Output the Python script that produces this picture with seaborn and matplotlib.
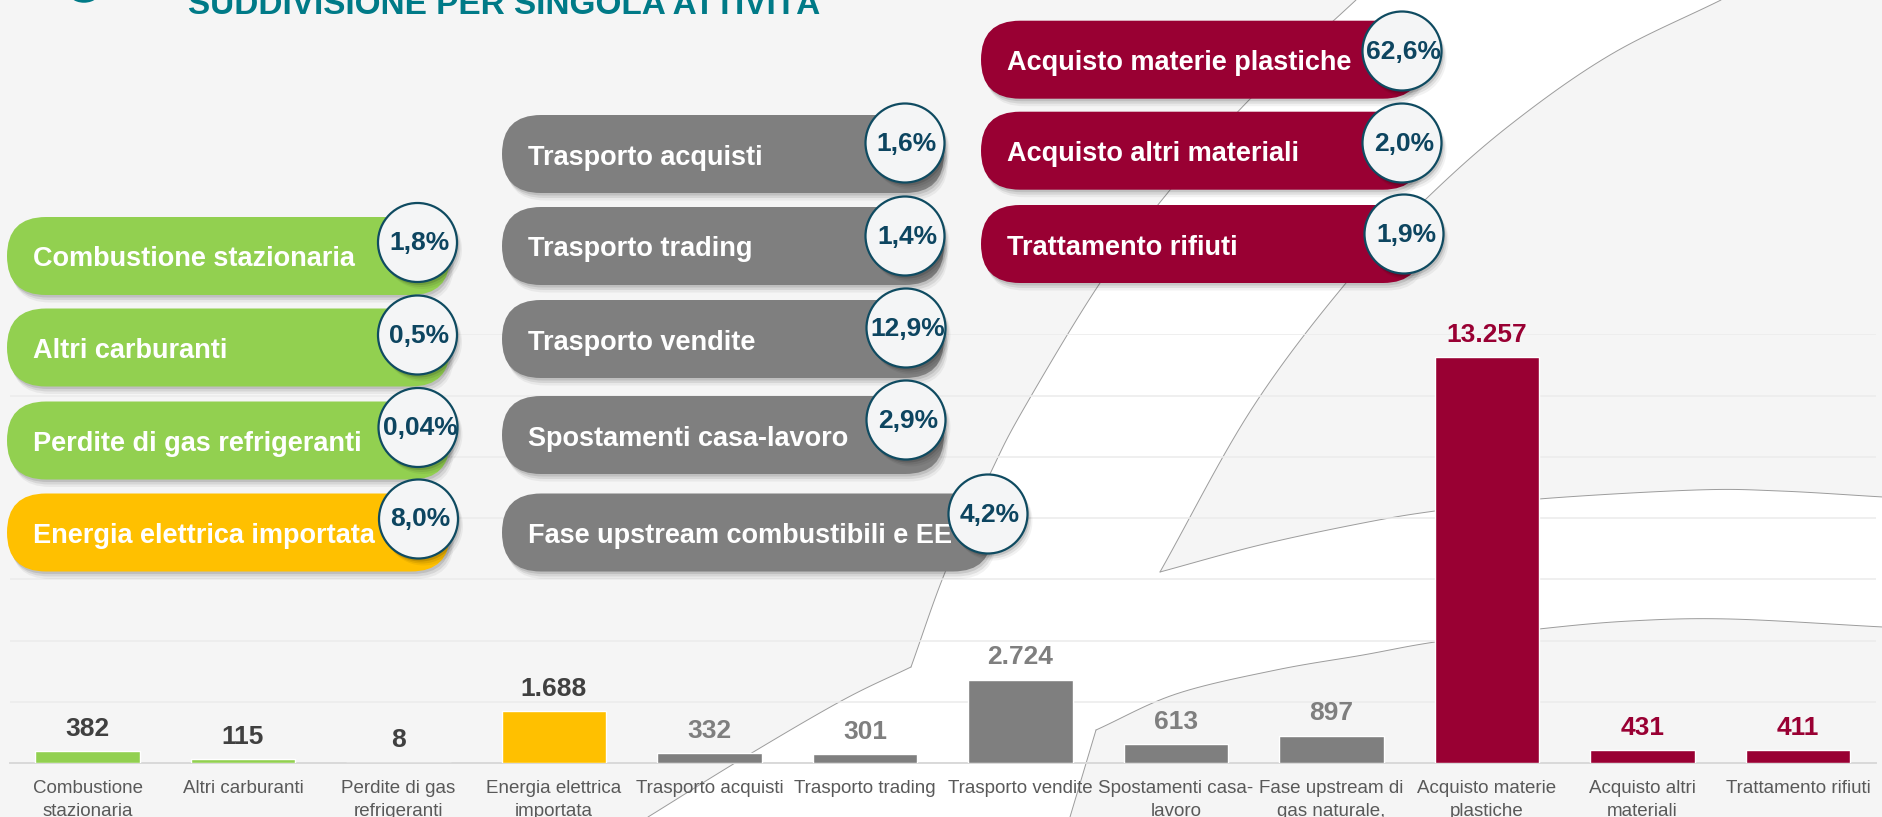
import numpy as np
import pandas as pd
import matplotlib
matplotlib.use("Agg")
import matplotlib.pyplot as plt
import seaborn as sns
from matplotlib.patches import FancyBboxPatch, Circle, Polygon, Arc
from matplotlib import font_manager as fm

# ---------------- data ----------------
categories = ["Combustione\nstazionaria", "Altri carburanti", "Perdite di gas\nrefrigeranti",
              "Energia elettrica\nimportata", "Trasporto acquisti", "Trasporto trading",
              "Trasporto vendite", "Spostamenti casa-\nlavoro", "Fase upstream di\ngas naturale,",
              "Acquisto materie\nplastiche", "Acquisto altri\nmateriali", "Trattamento rifiuti"]
values = [382, 115, 8, 1688, 332, 301, 2724, 613, 897, 13257, 431, 411]
groups = ["Scope 1", "Scope 1", "Scope 1", "Scope 2",
          "Scope 3 trasporti", "Scope 3 trasporti", "Scope 3 trasporti", "Scope 3 trasporti", "Scope 3 trasporti",
          "Scope 3 acquisti", "Scope 3 acquisti", "Scope 3 acquisti"]
pill_labels = ["Combustione stazionaria", "Altri carburanti", "Perdite di gas refrigeranti",
               "Energia elettrica importata", "Trasporto acquisti", "Trasporto trading",
               "Trasporto vendite", "Spostamenti casa-lavoro", "Fase upstream combustibili e EE",
               "Acquisto materie plastiche", "Acquisto altri materiali", "Trattamento rifiuti"]
pill_pcts = ["1,8%", "0,5%", "0,04%", "8,0%", "1,6%", "1,4%", "12,9%", "2,9%", "4,2%",
             "62,6%", "2,0%", "1,9%"]
title = "SUDDIVISIONE PER SINGOLA ATTIVITÀ"

# ---------------- style ----------------
group_colors = {"Scope 1": "#92D050", "Scope 2": "#FFC000",
                "Scope 3 trasporti": "#7F7F7F", "Scope 3 acquisti": "#990033"}
label_colors = {"Scope 1": "#404040", "Scope 2": "#404040",
                "Scope 3 trasporti": "#7F7F7F", "Scope 3 acquisti": "#990033"}
BG = "#F5F5F5"
TEAL = "#007A87"
BADGE_EDGE = "#0F4B61"
BADGE_TXT = "#0D4560"

sns.set_style("white")
plt.rcParams["font.family"] = ["Liberation Sans", "DejaVu Sans"]
font_names = {f.name for f in fm.fontManager.ttflist}
NARROW = "Liberation Sans Narrow" in font_names
if NARROW:
    tick_font = dict(family=["Liberation Sans Narrow", "Liberation Sans"], fontsize=15.5)
    tick_ls = 1.32
else:
    tick_font = dict(family=["Liberation Sans", "DejaVu Sans"], fontsize=13.5)
    tick_ls = 1.48

W, H = 1883, 817
fig = plt.figure(figsize=(W / 100, H / 100), dpi=100, facecolor=BG)

# ---------------- background decoration ----------------
def smooth(pts, n=14):
    p = np.asarray(pts, float)
    if len(p) < 3:
        return p
    ext = np.vstack([2 * p[0] - p[1], p, 2 * p[-1] - p[-2]])
    out = []
    for i in range(1, len(ext) - 2):
        p0, p1, p2, p3 = ext[i - 1], ext[i], ext[i + 1], ext[i + 2]
        for t in np.linspace(0, 1, n, endpoint=False):
            t2, t3 = t * t, t * t * t
            out.append(0.5 * ((2 * p1) + (-p0 + p2) * t + (2 * p0 - 5 * p1 + 4 * p2 - p3) * t2
                              + (-p0 + 3 * p1 - 3 * p2 + p3) * t3))
    out.append(p[-1])
    return np.array(out)

axbg = fig.add_axes([0, 0, 1, 1], zorder=0)
axbg.set_xlim(0, W); axbg.set_ylim(H, 0); axbg.axis("off")
axbg.add_patch(plt.Rectangle((0, 0), W, H, fc=BG, ec="none"))

L1 = smooth([(1356, 0), (1251, 98), (1170, 190), (1100, 283), (1023, 410), (990, 474), (946, 570), (911, 667)])
L2 = smooth([(911, 667), (843, 700), (745, 757), (648, 817)])
R1 = smooth([(1721, 0), (1610, 55), (1510, 125), (1426, 199), (1346, 283), (1251, 410), (1160, 572)])
UA = smooth([(1160, 572), (1260, 545), (1363, 523), (1435, 511), (1539, 499), (1696, 490), (1780, 491), (1883, 497)])
LA = smooth([(1096, 730), (1176, 694), (1276, 670), (1363, 655), (1435, 642), (1539, 629), (1630, 621), (1730, 619), (1883, 627)])
LL = np.array([(1070, 817), (1096, 730)])

poly = np.vstack([L1, L2[1:], LL, LA[1:], UA[::-1], R1[::-1][1:]])
axbg.add_patch(Polygon(poly, closed=True, fc="white", ec="none"))
for seg in (L1, L2, R1, UA, LA, LL):
    axbg.plot(seg[:, 0], seg[:, 1], color="#9C9C9C", lw=0.7, solid_capstyle="round")
axbg.add_patch(Arc((84, -10), 30, 22, theta1=30, theta2=150, color=TEAL, lw=2.5))

# ---------------- main bar chart ----------------
x_left, x_right = 9.75, 1875.75
y_base, y_top = 763.0, 334.3
ax = fig.add_axes([x_left / W, (H - y_base) / H, (x_right - x_left) / W, (y_base - y_top) / H], zorder=1)
ax.patch.set_alpha(0)

df = pd.DataFrame({"categoria": categories, "valore": values, "gruppo": groups})
palette = {c: group_colors[g] for c, g in zip(categories, groups)}
sns.barplot(data=df, x="categoria", y="valore", hue="categoria", palette=palette, legend=False,
            saturation=1, width=0.67, errorbar=None, ax=ax, zorder=3)

ax.set_xlim(-0.5, len(categories) - 0.5)
ax.set_ylim(0, 14000)
ax.set_yticks(np.arange(0, 14001, 2000))
ax.yaxis.grid(True, color="#EBEBEB", lw=1.1)
ax.set_axisbelow(True)
ax.tick_params(axis="y", left=False, labelleft=False)
ax.set_xticks(range(len(categories)))
ax.set_xticklabels(categories, color="#595959", linespacing=tick_ls, **tick_font)
ax.tick_params(axis="x", length=0, pad=12)
ax.set_xlabel(""); ax.set_ylabel("")
for s in ("top", "right", "left"):
    ax.spines[s].set_visible(False)
ax.spines["bottom"].set_color("#D9D9D9")
ax.spines["bottom"].set_linewidth(1.4)

for i, (v, g) in enumerate(zip(values, groups)):
    ax.annotate(f"{v:,}".replace(",", "."), xy=(i, v), xytext=(0, 11), textcoords="offset points",
                ha="center", va="baseline", fontsize=19, fontweight="bold",
                color=label_colors[g], annotation_clip=False)

# ---------------- overlay: title and pills ----------------
ov = fig.add_axes([0, 0, 1, 1], zorder=3)
ov.set_xlim(0, W); ov.set_ylim(H, 0); ov.axis("off"); ov.patch.set_alpha(0)

ov.text(188, 14, title, color=TEAL, fontsize=24, fontweight="bold", ha="left", va="baseline")

PH = 78
# (x0, y_top, x_right, badge_cx, badge_cy) per pill, same order as the data
layout = [(7, 217, 450, 417.5, 242.5), (7, 308.5, 450, 417.5, 335), (7, 401.5, 450, 418, 427.5),
          (7, 493.5, 450, 418.5, 519),
          (502, 115, 944, 905, 143), (502, 207, 944, 905, 236), (502, 300, 944, 906, 328),
          (502, 396, 944, 906, 420), (502, 493.5, 992, 988, 514),
          (981, 20.7, 1422, 1402, 51), (981, 111.7, 1422, 1402, 143), (981, 205, 1422, 1404, 234)]

for (x0, y0, x1, bcx, bcy), lab, pct, g in zip(layout, pill_labels, pill_pcts, groups):
    r = PH / 2
    bs = f"round,pad=0,rounding_size={r}"
    for dx, dy, a in [(1.5, 2.5, 0.10), (3, 5, 0.08), (4, 7.5, 0.05)]:
        ov.add_patch(FancyBboxPatch((x0 + dx, y0 + dy), x1 - x0, PH, boxstyle=bs,
                                    fc="black", ec="none", alpha=a, zorder=1))
    ov.add_patch(FancyBboxPatch((x0, y0), x1 - x0, PH, boxstyle=bs,
                                fc=group_colors[g], ec="none", zorder=2))
    ov.text(x0 + 26, y0 + PH / 2 + 10.5, lab, color="white", fontsize=19.5, fontweight="bold",
            ha="left", va="baseline", zorder=3)
    for dx, dy, a in [(2, 3, 0.12), (3.5, 5, 0.08), (5, 7, 0.05)]:
        ov.add_patch(Circle((bcx + dx, bcy + dy), 39.5, fc="black", ec="none", alpha=a, zorder=4))
    ov.add_patch(Circle((bcx, bcy), 39.5, fc="#F4F5F6", ec=BADGE_EDGE, lw=1.6, zorder=5))
    ov.text(bcx + 2, bcy + 7.5, pct, color=BADGE_TXT, fontsize=19, fontweight="bold",
            ha="center", va="baseline", zorder=6)

fig.savefig("out.png", dpi=100, facecolor=BG)
